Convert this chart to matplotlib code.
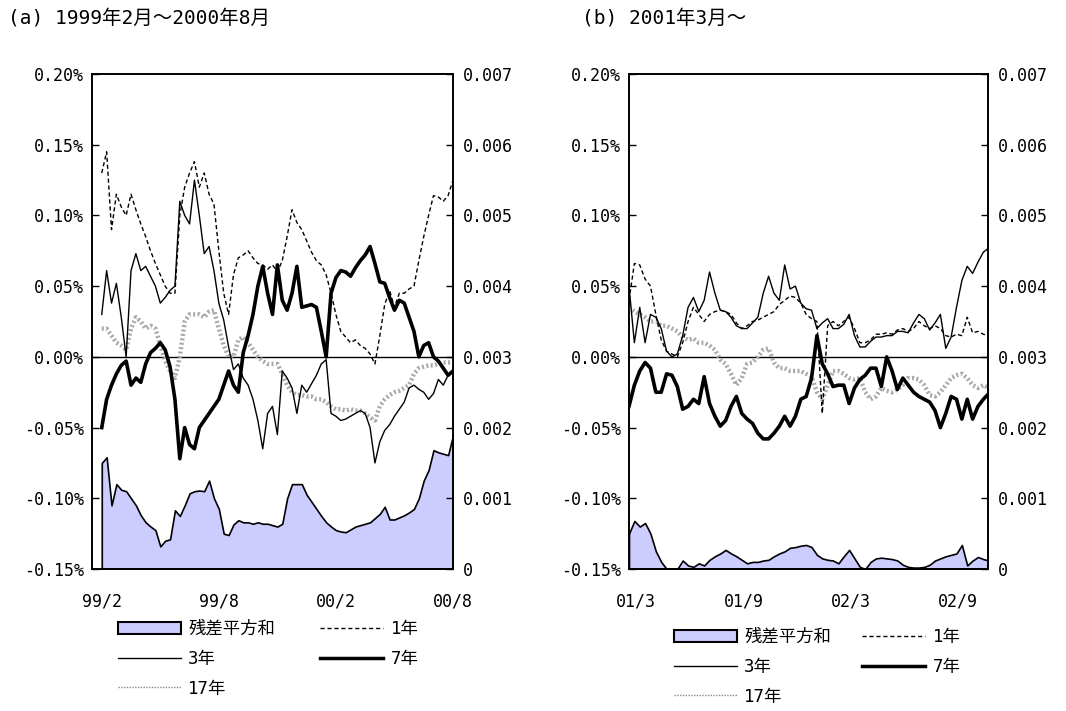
import numpy as np
import matplotlib
matplotlib.use('Agg')
import matplotlib.pyplot as plt
from matplotlib.lines import Line2D
from matplotlib.patches import Patch

plt.rcParams['font.family'] = ['Noto Sans CJK JP', 'DejaVu Sans']

# (a) 1999年2月～2000年8月 : 99/2 を 0 とした月数
left_month = np.arange(0, 18.01, 0.25)
left_rss = [0.00150, 0.00158, 0.00090, 0.00120, 0.00112, 0.00110, 0.00100, 0.00090, 0.00076, 0.00066,
            0.00060, 0.00055, 0.00032, 0.00040, 0.00042, 0.00083, 0.00075, 0.00090, 0.00107, 0.00110,
            0.00111, 0.00110, 0.00125, 0.00100, 0.00085, 0.00050, 0.00048, 0.00063, 0.00069, 0.00066,
            0.00066, 0.00064, 0.00066, 0.00064, 0.00064, 0.00062, 0.00060, 0.00064, 0.00100, 0.00120,
            0.00120, 0.00120, 0.00105, 0.00095, 0.00085, 0.00075, 0.00066, 0.00060, 0.00055, 0.00053,
            0.00052, 0.00056, 0.00060, 0.00062, 0.00064, 0.00066, 0.00072, 0.00078, 0.00088, 0.00070,
            0.00070, 0.00073, 0.00076, 0.00080, 0.00085, 0.00100, 0.00125, 0.00140, 0.00168, 0.00165,
            0.00163, 0.00161, 0.00189]
left_1y = [0.130, 0.145, 0.090, 0.115, 0.106, 0.100, 0.115, 0.104, 0.094, 0.085,
           0.075, 0.066, 0.058, 0.050, 0.045, 0.045, 0.100, 0.120, 0.130, 0.138,
           0.120, 0.130, 0.115, 0.108, 0.075, 0.045, 0.030, 0.058, 0.070, 0.072,
           0.075, 0.070, 0.066, 0.065, 0.062, 0.065, 0.060, 0.068, 0.085, 0.104,
           0.095, 0.090, 0.082, 0.074, 0.068, 0.065, 0.058, 0.045, 0.030, 0.018,
           0.014, 0.010, 0.012, 0.008, 0.006, 0.002, -0.005, 0.015, 0.037, 0.047,
           0.035, 0.045, 0.045, 0.048, 0.050, 0.068, 0.085, 0.100, 0.114, 0.113,
           0.110, 0.114, 0.125]
left_3y = [0.030, 0.061, 0.038, 0.052, 0.028, 0.000, 0.061, 0.073, 0.061, 0.064,
           0.057, 0.050, 0.038, 0.042, 0.047, 0.050, 0.110, 0.100, 0.094, 0.125,
           0.100, 0.073, 0.078, 0.061, 0.038, 0.026, 0.007, -0.009, -0.005, -0.015,
           -0.020, -0.030, -0.045, -0.065, -0.040, -0.035, -0.055, -0.010, -0.015, -0.022,
           -0.040, -0.020, -0.025, -0.019, -0.013, -0.005, -0.002, -0.040, -0.042, -0.045,
           -0.044, -0.042, -0.040, -0.038, -0.040, -0.050, -0.075, -0.060, -0.052, -0.048,
           -0.042, -0.037, -0.032, -0.022, -0.020, -0.023, -0.025, -0.030, -0.026, -0.016,
           -0.020, -0.013, -0.010]
left_7y = [-0.050, -0.030, -0.020, -0.012, -0.006, -0.003, -0.020, -0.015, -0.018, -0.005,
           0.003, 0.006, 0.010, 0.005, -0.007, -0.030, -0.072, -0.050, -0.062, -0.065,
           -0.050, -0.045, -0.040, -0.035, -0.030, -0.020, -0.010, -0.020, -0.025, 0.003,
           0.015, 0.030, 0.050, 0.064, 0.045, 0.030, 0.065, 0.040, 0.033, 0.045,
           0.064, 0.035, 0.036, 0.037, 0.035, 0.018, 0.000, 0.045, 0.056, 0.061,
           0.060, 0.057, 0.063, 0.068, 0.072, 0.078, 0.066, 0.053, 0.052, 0.042,
           0.033, 0.040, 0.038, 0.028, 0.018, 0.000, 0.008, 0.010, 0.000, -0.003,
           -0.008, -0.013, -0.010]
left_17y = [0.020, 0.020, 0.015, 0.010, 0.008, 0.005, 0.020, 0.028, 0.025, 0.020,
            0.022, 0.020, 0.008, -0.003, -0.010, -0.015, 0.000, 0.025, 0.030, 0.030,
            0.030, 0.028, 0.032, 0.033, 0.020, 0.008, 0.000, 0.000, 0.012, 0.014,
            0.010, 0.005, 0.000, -0.003, -0.005, -0.005, -0.005, -0.012, -0.020, -0.025,
            -0.027, -0.027, -0.028, -0.028, -0.030, -0.030, -0.032, -0.035, -0.037, -0.037,
            -0.038, -0.037, -0.038, -0.038, -0.040, -0.043, -0.045, -0.035, -0.030, -0.027,
            -0.025, -0.024, -0.022, -0.020, -0.012, -0.008, -0.007, -0.006, -0.006, -0.005,
            -0.004, -0.004, -0.004]
left_xticks = [0, 6, 12, 18]
left_xlabels = ['99/2', '99/8', '00/2', '00/8']

# (b) 2001年3月～ : 01/3 を 0 とした月数
right_month = np.arange(-0.4, 19.75, 0.3)
right_rss = [0.00050, 0.00068, 0.00060, 0.00065, 0.00050, 0.00025, 0.00010, 0.0, 0.0, 0.0,
             0.00012, 0.00005, 0.00003, 0.00008, 0.00005, 0.00013, 0.00018, 0.00022, 0.00027, 0.00022,
             0.00018, 0.00013, 0.00008, 0.00010, 0.00010, 0.00012, 0.00013, 0.00018, 0.00022, 0.00025,
             0.00030, 0.00031, 0.00033, 0.00034, 0.00031, 0.00020, 0.00015, 0.00013, 0.00012, 0.00008,
             0.00018, 0.00027, 0.00015, 0.00003, 0.0, 0.00010, 0.00015, 0.00016, 0.00015, 0.00014,
             0.00012, 0.00006, 0.00003, 0.00002, 0.00002, 0.00003, 0.00006, 0.00012, 0.00015, 0.00018,
             0.00020, 0.00022, 0.00034, 0.00005, 0.00012, 0.00017, 0.00014, 0.00012]
right_1y = [0.040, 0.066, 0.065, 0.055, 0.050, 0.030, 0.012, 0.004, 0.002, 0.000,
            0.010, 0.025, 0.035, 0.030, 0.025, 0.030, 0.032, 0.033, 0.032, 0.030,
            0.024, 0.020, 0.022, 0.025, 0.026, 0.028, 0.030, 0.032, 0.037, 0.040,
            0.043, 0.042, 0.038, 0.030, 0.027, 0.025, -0.040, 0.022, 0.025, 0.022,
            0.025, 0.028, 0.020, 0.010, 0.010, 0.012, 0.016, 0.016, 0.017, 0.016,
            0.019, 0.020, 0.018, 0.020, 0.025, 0.022, 0.020, 0.022, 0.020, 0.015,
            0.014, 0.016, 0.015, 0.028, 0.017, 0.018, 0.016, 0.015]
right_3y = [0.050, 0.010, 0.035, 0.010, 0.030, 0.028, 0.020, 0.004, 0.000, 0.002,
            0.015, 0.035, 0.042, 0.032, 0.040, 0.060, 0.045, 0.033, 0.032, 0.028,
            0.022, 0.020, 0.020, 0.024, 0.028, 0.045, 0.057, 0.045, 0.040, 0.065,
            0.048, 0.050, 0.038, 0.034, 0.033, 0.020, 0.024, 0.027, 0.020, 0.020,
            0.023, 0.030, 0.015, 0.007, 0.007, 0.011, 0.014, 0.014, 0.015, 0.015,
            0.018, 0.018, 0.017, 0.024, 0.030, 0.027, 0.019, 0.024, 0.030, 0.006,
            0.014, 0.035, 0.054, 0.064, 0.059, 0.067, 0.074, 0.077]
right_7y = [-0.035, -0.020, -0.010, -0.004, -0.008, -0.025, -0.025, -0.012, -0.013, -0.021,
            -0.037, -0.035, -0.030, -0.033, -0.014, -0.033, -0.042, -0.049, -0.045, -0.035,
            -0.028, -0.040, -0.044, -0.047, -0.054, -0.058, -0.058, -0.054, -0.049, -0.042,
            -0.049, -0.042, -0.030, -0.028, -0.015, 0.015, -0.005, -0.012, -0.021, -0.020,
            -0.020, -0.033, -0.022, -0.016, -0.013, -0.008, -0.008, -0.021, 0.000, -0.010,
            -0.023, -0.015, -0.020, -0.025, -0.028, -0.030, -0.032, -0.038, -0.050, -0.040,
            -0.028, -0.030, -0.044, -0.030, -0.044, -0.035, -0.030, -0.026]
right_17y = [0.035, 0.032, 0.030, 0.028, 0.025, 0.025, 0.022, 0.022, 0.020, 0.018,
             0.014, 0.012, 0.013, 0.010, 0.010, 0.008, 0.005, -0.002, -0.005, -0.012,
             -0.020, -0.015, -0.005, -0.004, 0.000, 0.005, 0.006, -0.004, -0.008, -0.008,
             -0.010, -0.010, -0.010, -0.012, -0.014, -0.025, -0.030, -0.020, -0.010, -0.010,
             -0.012, -0.015, -0.016, -0.015, -0.025, -0.030, -0.028, -0.022, -0.024, -0.025,
             -0.023, -0.020, -0.015, -0.015, -0.016, -0.020, -0.027, -0.028, -0.025, -0.020,
             -0.015, -0.013, -0.012, -0.015, -0.020, -0.022, -0.020, -0.022]
right_xticks = [0, 6, 12, 18]
right_xlabels = ['01/3', '01/9', '02/3', '02/9']

pct_ticks = [-0.15, -0.10, -0.05, 0.0, 0.05, 0.10, 0.15, 0.20]
pct_labels = ['-0.15%', '-0.10%', '-0.05%', '0.00%', '0.05%', '0.10%', '0.15%', '0.20%']
rss_ticks = [0, 0.001, 0.002, 0.003, 0.004, 0.005, 0.006, 0.007]
rss_labels = ['0', '0.001', '0.002', '0.003', '0.004', '0.005', '0.006', '0.007']

FILL = '#ccccff'
DOTS = '#a8a8a8'
MIXED = ['DejaVu Sans Mono', 'Noto Sans CJK JP']
tick_font = {'family': 'DejaVu Sans Mono', 'size': 12}

fig = plt.figure(figsize=(10.66, 7.11), dpi=100)


def draw_panel(rect, month, rss, y1, y3, y7, y17, xlim, xticks, xlabels):
    ax = fig.add_axes(rect)
    ax2 = ax.twinx()
    ax2.fill_between(month, 0, rss, facecolor=FILL, edgecolor='black', lw=1.2)
    ax2.set_ylim(0, 0.007)
    ax2.set_yticks(rss_ticks)
    ax2.set_yticklabels(rss_labels, fontdict=tick_font)
    ax2.tick_params(axis='y', direction='in', length=5, width=1, pad=7)

    ax.set_zorder(ax2.get_zorder() + 1)
    ax.patch.set_visible(False)
    ax.axhline(0, color='black', lw=1)
    ax.plot(month, y17, color=DOTS, lw=3.2, ls=(0, (0.45, 0.55)))
    ax.plot(month, y1, color='black', lw=1, ls=(0, (3, 2)))
    ax.plot(month, y3, color='black', lw=1)
    ax.plot(month, y7, color='black', lw=2.6)

    ax.set_xlim(*xlim)
    ax.set_ylim(-0.15, 0.20)
    ax.set_yticks(pct_ticks)
    ax.set_yticklabels(pct_labels, fontdict=tick_font)
    ax.set_xticks(xticks)
    ax.set_xticklabels(xlabels, fontdict=tick_font)
    ax.tick_params(axis='y', direction='in', length=5, width=1, pad=6)
    ax.tick_params(axis='x', length=0, pad=17)
    for a in (ax, ax2):
        for s in a.spines.values():
            s.set_linewidth(1.2)
    return ax


draw_panel([92 / 1066, 1 - 569 / 711, 361 / 1066, 495 / 711], left_month, left_rss,
           left_1y, left_3y, left_7y, left_17y, (-0.5, 18.0), left_xticks, left_xlabels)
draw_panel([629 / 1066, 1 - 569 / 711, 359 / 1066, 495 / 711], right_month, right_rss,
           right_1y, right_3y, right_7y, right_17y, (-0.4, 19.66), right_xticks, right_xlabels)

fig.text(8 / 1066, 1 - 18 / 711, '(a) 1999年2月～2000年8月', fontsize=14,
         family=MIXED, va='center', ha='left')
fig.text(582 / 1066, 1 - 18 / 711, '(b) 2001年3月～', fontsize=14,
         family=MIXED, va='center', ha='left')

# 凡例
handles = [Patch(facecolor=FILL, edgecolor='black', lw=1.5),
           Line2D([], [], color='black', lw=1),
           Line2D([], [], color='#888888', lw=1, ls=(0, (1, 1))),
           Line2D([], [], color='black', lw=1, ls=(0, (3, 2))),
           Line2D([], [], color='black', lw=2.5)]
labels = ['残差平方和', '3年', '17年', '1年', '7年']
legend_kw = dict(ncol=2, frameon=False, loc='upper left',
                 prop={'family': MIXED, 'size': 12.5},
                 handlelength=3.6, handleheight=0.75, handletextpad=0.45,
                 labelspacing=0.68, borderpad=0, borderaxespad=0)
fig.legend(handles, labels, bbox_to_anchor=(118 / 1066, 1 - 620 / 711),
           columnspacing=2.6, **legend_kw)
fig.legend(handles, labels, bbox_to_anchor=(674 / 1066, 1 - 628 / 711),
           columnspacing=1.8, **legend_kw)

fig.savefig('out.png', dpi=100)
